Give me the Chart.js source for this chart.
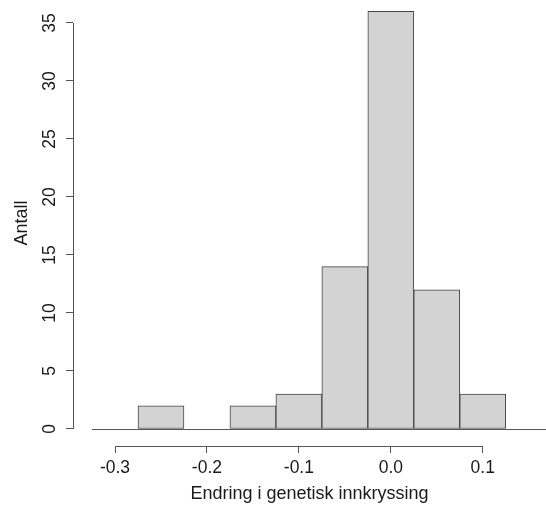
<!DOCTYPE html>
<html>
<head>
<meta charset="utf-8">
<script src="https://cdn.jsdelivr.net/npm/chart.js@4/dist/chart.umd.min.js"></script>
<style>
  html, body { margin: 0; padding: 0; background: #fff; }
  #wrap { width: 546px; height: 506px; }
</style>
</head>
<body>
<div id="wrap"><canvas id="hist" width="546" height="506"></canvas></div>
<script>
// histogram bins (midpoints, width 0.05) and counts
var binMids = [-0.25, -0.2, -0.15, -0.1, -0.05, 0.0, 0.05, 0.1];
var counts = [2, 0, 2, 3, 14, 36, 12, 3];
var xTicks = [-0.3, -0.2, -0.1, 0.0, 0.1];
var yTicks = [0, 5, 10, 15, 20, 25, 30, 35];
var xTitle = 'Endring i genetisk innkryssing';
var yTitle = 'Antall';

(function () {
  var canvas = document.getElementById('hist');
  if (typeof Chart === 'undefined') {
    return;
  }

  var axisColor = '#555';
  var textColor = '#1a1a1a';
  var family = '"Liberation Sans", Arial, sans-serif';

  // R-style axes: lines only span the tick range, baseline under the bars
  var rAxes = {
    id: 'rAxes',
    afterDatasetsDraw: function (chart) {
      var ctx = chart.ctx;
      var xs = chart.scales.x;
      var ys = chart.scales.y;
      var area = chart.chartArea;
      ctx.save();
      ctx.strokeStyle = axisColor;
      ctx.lineWidth = 1;
      ctx.beginPath();
      // baseline at zero
      var y0 = Math.round(ys.getPixelForValue(0)) + 0.5;
      ctx.moveTo(xs.getPixelForValue(-0.325), y0);
      ctx.lineTo(area.right, y0);
      // x axis
      var yb = Math.round(area.bottom) + 0.5;
      ctx.moveTo(xs.getPixelForValue(xTicks[0]), yb);
      ctx.lineTo(xs.getPixelForValue(xTicks[xTicks.length - 1]), yb);
      // y axis
      var xl = Math.round(area.left) + 0.5;
      ctx.moveTo(xl, ys.getPixelForValue(yTicks[0]));
      ctx.lineTo(xl, ys.getPixelForValue(yTicks[yTicks.length - 1]));
      ctx.stroke();
      ctx.restore();
    },
  };

  new Chart(canvas, {
    type: 'bar',
    data: {
      datasets: [
        {
          data: binMids.map(function (m, i) {
            return { x: m, y: counts[i] };
          }),
          backgroundColor: '#d3d3d3',
          borderColor: '#444',
          borderWidth: 1,
          borderSkipped: false,
          barPercentage: 1,
          categoryPercentage: 1,
        },
      ],
    },
    options: {
      responsive: false,
      animation: false,
      layout: { padding: 0 },
      plugins: {
        legend: { display: false },
        tooltip: { enabled: false },
      },
      scales: {
        x: {
          type: 'linear',
          offset: false,
          min: -0.3457,
          max: 0.1688,
          afterBuildTicks: function (scale) {
            scale.ticks = xTicks.map(function (v) {
              return { value: v };
            });
          },
          afterFit: function (scale) {
            scale.height = 60;
            scale.paddingLeft = 0;
            scale.paddingRight = 0;
          },
          grid: {
            offset: false,
            drawOnChartArea: false,
            drawTicks: true,
            tickLength: 7,
            color: axisColor,
          },
          border: { display: false },
          ticks: {
            padding: 5,
            color: textColor,
            maxRotation: 0,
            font: { family: family, size: 17.5 },
            callback: function (v) {
              return Number(v).toFixed(1);
            },
          },
          title: {
            display: true,
            text: xTitle,
            color: textColor,
            font: { family: family, size: 18 },
            padding: { top: 0, bottom: 1 },
          },
        },
        y: {
          min: -1.466,
          max: 36.98,
          afterBuildTicks: function (scale) {
            scale.ticks = yTicks.map(function (v) {
              return { value: v };
            });
          },
          afterFit: function (scale) {
            scale.width = 73;
            scale.paddingTop = 0;
            scale.paddingBottom = 0;
          },
          grid: {
            drawOnChartArea: false,
            drawTicks: true,
            tickLength: 7,
            color: axisColor,
          },
          border: { display: false },
          ticks: {
            padding: 6,
            color: textColor,
            minRotation: 90,
            maxRotation: 90,
            crossAlign: 'center',
            font: { family: family, size: 17.5 },
          },
          title: {
            display: true,
            text: yTitle,
            color: textColor,
            font: { family: family, size: 18 },
            padding: { top: 11, bottom: 0 },
          },
        },
      },
    },
    plugins: [rAxes],
  });
})();
</script>
</body>
</html>
